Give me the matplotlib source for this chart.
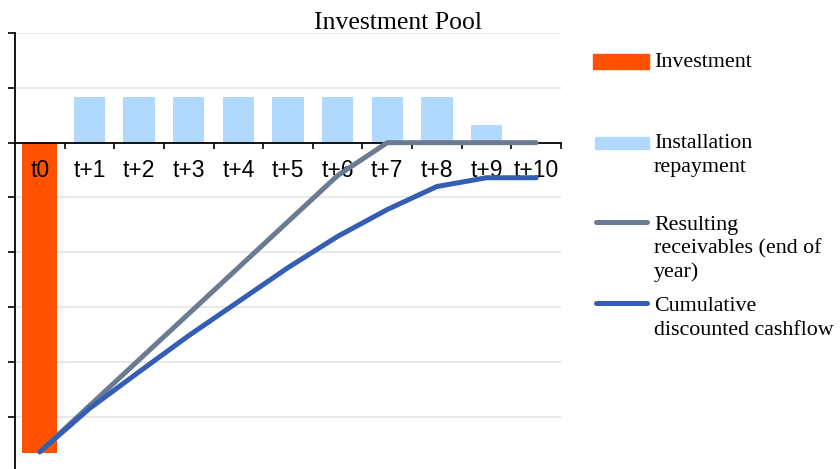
import numpy as np
import matplotlib
matplotlib.use('Agg')
import matplotlib.pyplot as plt
from matplotlib.patches import Rectangle
from matplotlib.lines import Line2D

# values (one grid step = 1 unit)
periods = ['t0', 't+1', 't+2', 't+3', 't+4', 't+5', 't+6', 't+7', 't+8', 't+9', 't+10']
investment = [-5.66, 0, 0, 0, 0, 0, 0, 0, 0, 0, 0]
repayment = [0, 0.84, 0.84, 0.84, 0.84, 0.84, 0.84, 0.84, 0.84, 0.33, 0]
receivables = [-5.64, -4.80, -3.96, -3.12, -2.28, -1.44, -0.60, 0, 0, 0, 0]
cum_discounted = [-5.64, -4.85, -4.18, -3.52, -2.90, -2.28, -1.71, -1.22, -0.80, -0.64, -0.64]

legend_labels = [['Investment'], ['Installation', 'repayment'],
                 ['Resulting', 'receivables (end of', 'year)'], ['Cumulative', 'discounted cashflow']]

c_invest = '#FF5100'
c_repay = '#B1D8FF'
c_recv = '#6A7B93'
c_cum = '#335EB4'

W, H = 840, 469
fig = plt.figure(figsize=(W / 100, H / 100), dpi=100)
# plot area in pixels: x 15..561, y 33..~472
ax = fig.add_axes([15 / W, (H - 471.6) / H, 546 / W, 438.6 / H])

x = np.arange(len(periods))
yt = np.arange(-6, 3, 1)

# grid drawn by hand so bars cover it but tick labels stay on top of bars
for v in yt:
    if v != 0:
        ax.axhline(v, color='#E6E6E6', lw=1.3, zorder=0.5)

ax.bar(x, investment, width=0.7, color=c_invest, zorder=1)
ax.bar(x, repayment, width=0.63, color=c_repay, zorder=1)
ax.plot(x, receivables, color=c_recv, lw=3.6, solid_capstyle='round', zorder=5, clip_on=False)
ax.plot(x, cum_discounted, color=c_cum, lw=3.6, solid_capstyle='round', zorder=5, clip_on=False)

ax.set_xlim(-0.5, len(periods) - 0.5)
ax.set_ylim(-6, 2)

ax.spines['top'].set_visible(False)
ax.spines['right'].set_visible(False)
ax.spines['bottom'].set_position(('data', 0))
ax.spines['bottom'].set_linewidth(1.3)
ax.spines['left'].set_linewidth(1.3)

ax.set_yticks(yt)
ax.set_yticklabels([])
ax.tick_params(axis='y', direction='out', length=5, width=1.2)

ax.set_xticks(x)
ax.set_xticklabels(periods, fontsize=16.5, family='Liberation Sans')
ax.set_xticks(np.arange(0.5, len(periods), 1), minor=True)
ax.tick_params(axis='x', which='major', length=0, pad=12)
ax.tick_params(axis='x', which='minor', direction='out', length=4.5, width=1.2)

fig.text(398 / W, 1 - 29 / H, 'Investment Pool', ha='center', va='baseline',
         fontsize=18.5, family='Liberation Serif')

# legend drawn by hand on the right
fig.patches.append(Rectangle((593 / W, 1 - 69 / H), 56 / W, 15 / H, color=c_invest,
                             transform=fig.transFigure, figure=fig))
fig.patches.append(Rectangle((595 / W, 1 - 149 / H), 54 / W, 12 / H, color=c_repay,
                             transform=fig.transFigure, figure=fig))
fig.lines.append(Line2D([596 / W, 647 / W], [1 - 222 / H, 1 - 222 / H], color=c_recv, lw=3.6,
                        solid_capstyle='round', transform=fig.transFigure, figure=fig))
fig.lines.append(Line2D([596 / W, 647 / W], [1 - 303 / H, 1 - 303 / H], color=c_cum, lw=3.6,
                        solid_capstyle='round', transform=fig.transFigure, figure=fig))

baselines = [67, 148, 230, 311]
for lines, b in zip(legend_labels, baselines):
    for i, line in enumerate(lines):
        fig.text(654 / W, 1 - (b + 23.5 * i) / H, line, ha='left', va='baseline',
                 fontsize=15.8, family='Liberation Serif')

fig.savefig('out.png', dpi=100)
